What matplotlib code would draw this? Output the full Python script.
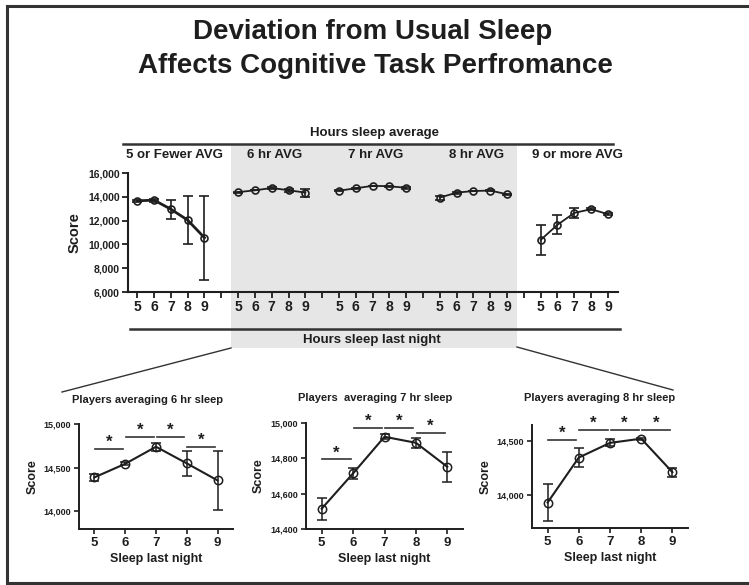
import matplotlib
matplotlib.use("Agg")
import matplotlib.pyplot as plt
from matplotlib.lines import Line2D
from matplotlib.patches import Rectangle

plt.rcParams['font.family'] = ['Liberation Sans', 'DejaVu Sans']
plt.rcParams['font.weight'] = 'bold'

INK = "#1e1e1e"

# hours slept the night before
hours = [5, 6, 7, 8, 9]
group_names = ["5 or Fewer AVG", "6 hr AVG", "7 hr AVG", "8 hr AVG", "9 or more AVG"]

# mean score and error per usual-sleep group
score_le5 = [13660, 13720, 12960, 12040, 10560]
err_le5 = [100, 120, 790, 2040, 3520]
score_6hr = [14390, 14545, 14740, 14550, 14355]
err_6hr = [40, 15, 45, 145, 340]
score_7hr = [14515, 14715, 14922, 14888, 14752]
err_7hr = [62, 30, 15, 28, 85]
score_8hr = [13935, 14350, 14485, 14524, 14215]
err_8hr = [168, 87, 33, 10, 42]
score_9plus = [10375, 11650, 12645, 12960, 12540]
err_9plus = [1225, 800, 395, 80, 80]

top_scores = [score_le5, score_6hr, score_7hr, score_8hr, score_9plus]
top_errs = [err_le5, err_6hr, err_7hr, err_8hr, err_9plus]
top_yticks = [6000, 8000, 10000, 12000, 14000, 16000]

# heights of the significance bars between neighbouring nights
sig_6hr = [14711, 14854, 14854, 14738]
sig_7hr = [14794, 14970, 14970, 14943]
sig_8hr = [14509, 14606, 14606, 14606]

W, H = 749, 585


def fx(x):
    return x / W


def fy(y):
    return 1 - y / H


fig = plt.figure(figsize=(W / 100, H / 100), dpi=100)

# frame lines round the slide
for xs, ys in [((7, 7), (6, 583)), ((7, 749), (6, 6)), ((7, 749), (583, 583))]:
    fig.add_artist(Line2D([fx(v) for v in xs], [fy(v) for v in ys],
                          color="#333333", lw=2.2))

fig.text(fx(373), fy(39), "Deviation from Usual Sleep", ha="center", va="baseline",
         fontsize=20, fontweight="bold", color=INK)
fig.text(fx(375), fy(73), "Affects Cognitive Task Perfromance", ha="center", va="baseline",
         fontsize=20, fontweight="bold", color=INK)

# grey band behind the middle three groups
fig.add_artist(Rectangle((fx(231), fy(348)), fx(517) - fx(231), fy(145) - fy(348),
                         facecolor="#e6e6e6", edgecolor="none", zorder=0))

# zoom lines down to the lower panels
fig.add_artist(Line2D([fx(231), fx(62)], [fy(348), fy(392)], color="#333333", lw=1))
fig.add_artist(Line2D([fx(517), fx(673)], [fy(347), fy(390)], color="#333333", lw=1))

# header and footer rules of the top panel
fig.add_artist(Line2D([fx(123), fx(613)], [fy(144), fy(144)], color="#333333", lw=1.8))
fig.add_artist(Line2D([fx(130), fx(620)], [fy(329), fy(329)], color="#333333", lw=1.8))
fig.text(fx(374), fy(133), "Hours sleep average", ha="center", va="center",
         fontsize=9.5, fontweight="bold", color=INK)
fig.text(fx(372), fy(340), "Hours sleep last night", ha="center", va="center",
         fontsize=9.5, fontweight="bold", color=INK)

# top panel: five groups on one axis
ax = fig.add_axes([fx(128), fy(292), fx(618) - fx(128), fy(173) - fy(292)])
ax.patch.set_alpha(0)
for g, (sc, er) in enumerate(zip(top_scores, top_errs)):
    xs = [6 * g + (h - 5) for h in hours]
    ax.errorbar(xs, sc, yerr=er, color=INK, lw=2 if g == 0 else 1.3,
                elinewidth=1.2, capsize=3.5, capthick=1.2, marker="o",
                ms=5, mfc="none", mec=INK, mew=1.2)
    ax.text(6 * g + 2.2, 1.15, group_names[g], transform=ax.get_xaxis_transform(),
            ha="center", va="center", fontsize=9.5, fontweight="bold", color=INK)

ticks = [6 * g + (h - 5) for g in range(5) for h in hours]
ax.set_xticks(ticks)
ax.set_xticklabels([str(h) for g in range(5) for h in hours])
ax.set_xticks([5, 11, 17, 23], minor=True)
ax.set_xlim(-0.55, 28.6)
ax.set_ylim(6000, 16000)
ax.set_yticks(top_yticks)
ax.set_yticklabels([f"{v:,}" for v in top_yticks])
for s in ["top", "right"]:
    ax.spines[s].set_visible(False)
for s in ["left", "bottom"]:
    ax.spines[s].set_linewidth(1.5)
    ax.spines[s].set_color(INK)
ax.tick_params(axis="x", which="both", length=4, width=1.3, colors=INK, pad=2)
ax.tick_params(axis="x", labelsize=10)
ax.tick_params(axis="y", length=4, width=1.3, colors=INK, labelsize=7.5, pad=2)
for lab in ax.get_xticklabels() + ax.get_yticklabels():
    lab.set_fontweight("bold")
ax.set_ylabel("Score", fontsize=10.5, fontweight="bold", color=INK, labelpad=5)


# lower panels: one usual-sleep group each
def small_panel(rect, scores, errs, sig, ylim, yticks, title, title_xy):
    a = fig.add_axes(rect)
    a.errorbar(hours, scores, yerr=errs, color=INK, lw=1.5, elinewidth=1.1,
               capsize=3.5, capthick=1.1, marker="o", ms=6, mfc="none",
               mec=INK, mew=1.1)
    for h, level in zip(hours[:-1], sig):
        a.plot([h + 0.02, h + 0.92], [level, level], color="#333333", lw=1.2)
        a.annotate("*", (h + 0.47, level), xytext=(0, 1.5), textcoords="offset points",
                   ha="center", va="baseline", fontsize=12, fontweight="bold",
                   color=INK)
    a.set_xlim(4.5, 9.5)
    a.set_ylim(*ylim)
    a.set_xticks(hours)
    a.set_yticks(yticks)
    a.set_yticklabels([f"{v:,}" for v in yticks])
    for s in ["top", "right"]:
        a.spines[s].set_visible(False)
    for s in ["left", "bottom"]:
        a.spines[s].set_linewidth(1.4)
        a.spines[s].set_color(INK)
    a.tick_params(axis="x", length=3.5, width=1.2, colors=INK, labelsize=9.5, pad=2)
    a.tick_params(axis="y", length=3.5, width=1.2, colors=INK, labelsize=6.5, pad=2)
    for lab in a.get_xticklabels() + a.get_yticklabels():
        lab.set_fontweight("bold")
    a.set_ylabel("Score", fontsize=9, fontweight="bold", color=INK, labelpad=4)
    a.set_xlabel("Sleep last night", fontsize=9, fontweight="bold", color=INK,
                 labelpad=3)
    fig.text(fx(title_xy[0]), fy(title_xy[1]), title, ha="center", va="center",
             fontsize=8, fontweight="bold", color=INK)
    return a


small_panel([fx(79), fy(529), fx(233) - fx(79), fy(424) - fy(529)],
            score_6hr, err_6hr, sig_6hr, (13800, 15000), [14000, 14500, 15000],
            "Players averaging 6 hr sleep", (147, 400))
small_panel([fx(306), fy(529), fx(463) - fx(306), fy(423) - fy(529)],
            score_7hr, err_7hr, sig_7hr, (14400, 15000), [14400, 14600, 14800, 15000],
            "Players  averaging 7 hr sleep", (375, 398))
small_panel([fx(532), fy(528), fx(688) - fx(532), fy(425) - fy(528)],
            score_8hr, err_8hr, sig_8hr, (13700, 14650), [14000, 14500],
            "Players averaging 8 hr sleep", (600, 398))

fig.savefig("out.png", dpi=100)
